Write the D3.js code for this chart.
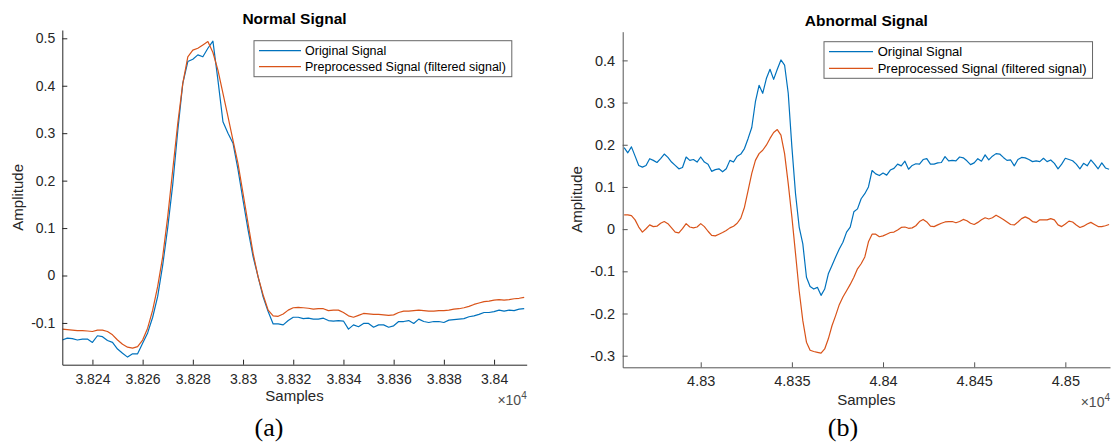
<!DOCTYPE html>
<html>
<head>
<meta charset="utf-8">
<script src="https://cdn.jsdelivr.net/npm/d3@7"></script>
<style>
body { margin: 0; background: #fff; }
svg { display: block; font-family: "Liberation Sans", Arial, sans-serif; }
</style>
</head>
<body>
<script>
// ---- data ----
// sample axis: first sample and step between values
var normalStart = 38228, normalStep = 2;
var normalXRange = [38228, 38413];
var normalXTicks = [38240, 38260, 38280, 38300, 38320, 38340, 38360, 38380, 38400];
var normalYTicks = [-0.1, 0, 0.1, 0.2, 0.3, 0.4, 0.5];
var normalYRange = [-0.188, 0.5175];

var normalOriginal = [
  -0.136, -0.132, -0.133, -0.136, -0.134, -0.134, -0.141, -0.127, -0.129, -0.137,
  -0.141, -0.155, -0.164, -0.172, -0.165, -0.165, -0.143, -0.121, -0.088, -0.044,
  0.022, 0.101, 0.192, 0.305, 0.405, 0.451, 0.456, 0.465, 0.461, 0.479,
  0.494, 0.412, 0.324, 0.300, 0.279, 0.223, 0.159, 0.096, 0.040, -0.003,
  -0.045, -0.076, -0.102, -0.102, -0.104, -0.095, -0.088, -0.088,
  -0.091, -0.090, -0.092, -0.092, -0.090, -0.095, -0.096, -0.095, -0.096, -0.113,
  -0.104, -0.108, -0.101, -0.101, -0.109, -0.104, -0.104, -0.109, -0.106, -0.097,
  -0.097, -0.095, -0.101, -0.092, -0.097, -0.099, -0.097, -0.097, -0.099, -0.094,
  -0.093, -0.092, -0.091, -0.087, -0.085, -0.082, -0.078, -0.078, -0.076, -0.073,
  -0.075, -0.073, -0.074, -0.071, -0.070
];
var normalFiltered = [
  -0.113, -0.114, -0.115, -0.116, -0.116, -0.117, -0.118, -0.115, -0.115, -0.118,
  -0.125, -0.136, -0.145, -0.151, -0.153, -0.150, -0.136, -0.111, -0.073, -0.023,
  0.040, 0.124, 0.223, 0.321, 0.405, 0.461, 0.475, 0.479, 0.486, 0.493,
  0.470, 0.433, 0.384, 0.335, 0.285, 0.236, 0.173, 0.110, 0.047, -0.003,
  -0.041, -0.073, -0.085, -0.086, -0.081, -0.073, -0.068, -0.067,
  -0.068, -0.069, -0.071, -0.070, -0.070, -0.074, -0.073, -0.073, -0.078, -0.085,
  -0.088, -0.084, -0.080, -0.081, -0.082, -0.082, -0.083, -0.084, -0.083, -0.078,
  -0.075, -0.075, -0.074, -0.073, -0.074, -0.075, -0.075, -0.074, -0.074, -0.073,
  -0.071, -0.070, -0.068, -0.065, -0.061, -0.058, -0.055, -0.054, -0.052, -0.051,
  -0.052, -0.051, -0.049, -0.048, -0.046
];

var abnormalStart = 48258, abnormalStep = 2;
var abnormalXRange = [48257.2, 48524.5];
var abnormalXTicks = [48300, 48350, 48400, 48450, 48500];
var abnormalYTicks = [-0.3, -0.2, -0.1, 0, 0.1, 0.2, 0.3, 0.4];
var abnormalYRange = [-0.3275, 0.468];

var abnormalOriginal = [
  0.193, 0.181, 0.195, 0.173, 0.151, 0.147, 0.151, 0.167, 0.163, 0.158,
  0.167, 0.178, 0.170, 0.159, 0.151, 0.143, 0.146, 0.171, 0.163, 0.165,
  0.159, 0.171, 0.159, 0.154, 0.137, 0.141, 0.143, 0.136, 0.143, 0.163,
  0.159, 0.173, 0.178, 0.191, 0.215, 0.241, 0.302, 0.341, 0.322, 0.357,
  0.379, 0.355, 0.379, 0.401, 0.389, 0.322, 0.195, 0.084, 0.005, -0.035,
  -0.114, -0.136, -0.142, -0.138, -0.157, -0.142, -0.106, -0.086, -0.066, -0.047,
  -0.031, -0.007, 0.005, 0.041, 0.048, 0.072, 0.084, 0.100,
  0.139, 0.131, 0.127, 0.133, 0.128, 0.140, 0.144, 0.154, 0.150, 0.161,
  0.142, 0.151, 0.155, 0.154, 0.165, 0.167, 0.154, 0.154, 0.157, 0.158,
  0.172, 0.162, 0.163, 0.162, 0.171, 0.169, 0.162, 0.153, 0.157, 0.167,
  0.161, 0.176, 0.164, 0.173, 0.179, 0.178, 0.170, 0.163, 0.164, 0.150,
  0.165, 0.170, 0.169, 0.165, 0.160, 0.162, 0.160, 0.168, 0.160, 0.164,
  0.156, 0.143, 0.154, 0.168, 0.165, 0.162, 0.154, 0.143, 0.156, 0.150,
  0.164, 0.154, 0.143, 0.157, 0.145, 0.142
];
var abnormalFiltered = [
  0.034, 0.034, 0.032, 0.022, 0.005, -0.007, 0.001, 0.010, 0.006, 0.007,
  0.014, 0.018, 0.013, 0.003, -0.007, -0.009, 0.001, 0.013, 0.005, 0.003,
  0.005, 0.013, 0.006, -0.005, -0.015, -0.016, -0.012, -0.008, -0.003, 0.003,
  0.007, 0.014, 0.026, 0.052, 0.092, 0.132, 0.163, 0.179, 0.187, 0.199,
  0.215, 0.229, 0.236, 0.223, 0.179, 0.108, 0.029, -0.058, -0.146, -0.217,
  -0.268, -0.287, -0.290, -0.292, -0.294, -0.284, -0.260, -0.229, -0.205, -0.179,
  -0.161, -0.146, -0.131, -0.114, -0.094, -0.082, -0.066, -0.030,
  -0.012, -0.012, -0.018, -0.016, -0.012, -0.008, -0.007, -0.002, 0.004, 0.005,
  0.002, 0.003, 0.008, 0.018, 0.023, 0.017, 0.007, 0.006, 0.010, 0.014,
  0.017, 0.018, 0.018, 0.015, 0.018, 0.023, 0.020, 0.014, 0.011, 0.016,
  0.022, 0.027, 0.024, 0.027, 0.033, 0.028, 0.023, 0.017, 0.011, 0.010,
  0.017, 0.025, 0.029, 0.025, 0.018, 0.016, 0.022, 0.022, 0.022, 0.025,
  0.022, 0.010, 0.006, 0.012, 0.019, 0.017, 0.010, 0.004, 0.007, 0.012,
  0.016, 0.011, 0.006, 0.006, 0.008, 0.011
];

var seriesNames = ["Original Signal", "Preprocessed Signal (filtered signal)"];
var seriesColors = ["#0072BD", "#D95319"];

// ---- drawing ----
var width = 1113, height = 444;

var svg = d3.select("body")
    .append("svg")
    .attr("width", width)
    .attr("height", height);

var panels = [
  {
    id: "a", title: "Normal Signal",
    start: normalStart, step: normalStep, series: [normalOriginal, normalFiltered],
    xRange: normalXRange, yRange: normalYRange, xTicks: normalXTicks, yTicks: normalYTicks,
    left: 62.3, right: 526.7, top: 30, bottom: 364.7,
    axisColor: "#262626", tickFont: 14, titleY: 24, ylabelX: 23, xlabelY: 401, expY: 405,
    xPad: 9, yPad: 7,
    legend: {x: 254, y: 40.7, rowY: [10, 26], lineX: [5, 47], textX: 51, font: 12.5, h: 36},
    tag: "(a)", tagX: 269
  },
  {
    id: "b", title: "Abnormal Signal",
    start: abnormalStart, step: abnormalStep, series: [abnormalOriginal, abnormalFiltered],
    xRange: abnormalXRange, yRange: abnormalYRange, xTicks: abnormalXTicks, yTicks: abnormalYTicks,
    left: 622.7, right: 1110, top: 31.7, bottom: 367.3,
    axisColor: "#555", tickFont: 14.5, titleY: 25.5, ylabelX: 581.7, xlabelY: 405, expY: 406.5,
    xPad: 8, yPad: 7.5,
    legend: {x: 824, y: 41.7, rowY: [10, 26.6], lineX: [5, 49], textX: 53.7, font: 13, h: 36.6},
    tag: "(b)", tagX: 843
  }
];

panels.forEach(drawPanel);

function drawPanel(p){
    var x = d3.scaleLinear().domain(p.xRange).range([p.left, p.right]);
    var y = d3.scaleLinear().domain(p.yRange).range([p.bottom, p.top]);

    var g = svg.append("g").attr("class", "panel-" + p.id);

    // clip lines to the axes box
    svg.append("clipPath")
        .attr("id", "clip-" + p.id)
        .append("rect")
        .attr("x", p.left)
        .attr("y", p.top)
        .attr("width", p.right - p.left)
        .attr("height", p.bottom - p.top);

    var line = d3.line()
        .x(function(d, i){ return x(p.start + i * p.step); })
        .y(function(d){ return y(d); });

    g.append("g")
        .attr("clip-path", "url(#clip-" + p.id + ")")
        .selectAll("path")
        .data(p.series)
        .enter()
        .append("path")
        .attr("d", line)
        .attr("fill", "none")
        .attr("stroke", function(d, i){ return seriesColors[i]; })
        .attr("stroke-width", 1.2)
        .attr("stroke-linejoin", "round");

    // axes, ticks point inward like matlab
    var xAxis = d3.axisBottom(x)
        .tickValues(p.xTicks)
        .tickFormat(function(d){ return d3.format(".4~f")(d / 1e4); })
        .tickSizeInner(-5)
        .tickSizeOuter(0)
        .tickPadding(p.xPad);

    var yAxis = d3.axisLeft(y)
        .tickValues(p.yTicks)
        .tickFormat(function(d){ return d3.format("~g")(d).replace("\u2212", "-"); })
        .tickSizeInner(-5)
        .tickSizeOuter(0)
        .tickPadding(p.yPad);

    var gx = g.append("g")
        .attr("transform", "translate(0," + p.bottom + ")")
        .call(xAxis);
    var gy = g.append("g")
        .attr("transform", "translate(" + p.left + ",0)")
        .call(yAxis);

    [gx, gy].forEach(function(ax){
        ax.attr("font-family", null).attr("font-size", p.tickFont);
        ax.selectAll("path, line").attr("stroke", p.axisColor);
        ax.selectAll("text").attr("fill", "#262626");
    });

    // title
    g.append("text")
        .attr("x", (p.left + p.right) / 2)
        .attr("y", p.titleY)
        .attr("text-anchor", "middle")
        .attr("font-weight", "bold")
        .attr("font-size", 15.5)
        .attr("fill", "#000")
        .text(p.title);

    // axis labels
    g.append("text")
        .attr("x", (p.left + p.right) / 2)
        .attr("y", p.xlabelY)
        .attr("text-anchor", "middle")
        .attr("font-size", 15)
        .attr("fill", "#262626")
        .text("Samples");

    g.append("text")
        .attr("transform", "translate(" + p.ylabelX + "," + (p.top + p.bottom) / 2 + ") rotate(-90)")
        .attr("text-anchor", "middle")
        .attr("font-size", 15)
        .attr("fill", "#262626")
        .text("Amplitude");

    // x10^4 exponent
    var ex = g.append("text")
        .attr("x", p.right)
        .attr("y", p.expY)
        .attr("text-anchor", "end")
        .attr("font-size", 14)
        .attr("fill", "#4d4d4d");
    ex.append("tspan").text("\u00d710");
    ex.append("tspan").attr("dy", -6).attr("font-size", 10).text("4");

    // legend
    var L = p.legend;
    var lg = g.append("g").attr("transform", "translate(" + L.x + "," + L.y + ")");
    var box = lg.append("rect")
        .attr("height", L.h)
        .attr("fill", "#fff")
        .attr("stroke", "#666")
        .attr("stroke-width", 1);
    var maxW = 0;
    seriesNames.forEach(function(name, i){
        lg.append("line")
            .attr("x1", L.lineX[0]).attr("x2", L.lineX[1])
            .attr("y1", L.rowY[i]).attr("y2", L.rowY[i])
            .attr("stroke", seriesColors[i])
            .attr("stroke-width", 1.2);
        var t = lg.append("text")
            .attr("x", L.textX)
            .attr("y", L.rowY[i])
            .attr("dy", "0.35em")
            .attr("font-size", L.font)
            .attr("fill", "#000")
            .text(name);
        maxW = Math.max(maxW, t.node().getComputedTextLength());
    });
    box.attr("width", L.textX + maxW + 6);

    // sub-figure tag
    svg.append("text")
        .attr("x", p.tagX)
        .attr("y", 436)
        .attr("text-anchor", "middle")
        .attr("font-family", "'Liberation Serif', 'Times New Roman', serif")
        .attr("font-size", 26)
        .attr("fill", "#000")
        .text(p.tag);
}
</script>
</body>
</html>
